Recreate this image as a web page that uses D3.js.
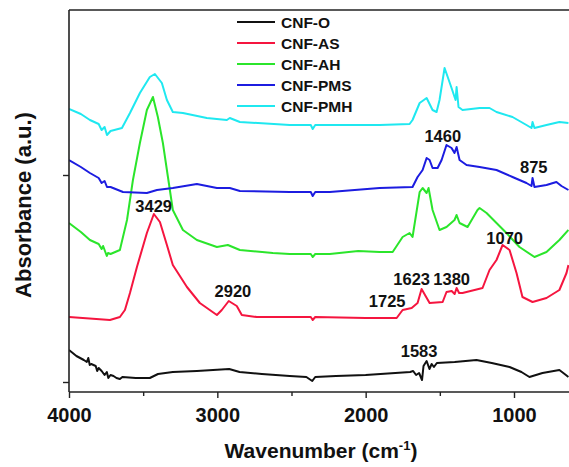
<!DOCTYPE html>
<html>
<head>
<meta charset="utf-8">
<script src="https://cdn.jsdelivr.net/npm/d3@7/dist/d3.min.js"></script>
<style>
html,body{margin:0;padding:0;background:#fff;}
svg{display:block;}
text{font-family:"Liberation Sans",Arial,sans-serif;font-weight:bold;fill:#111;}
</style>
</head>
<body>
<script>
// ---- DATA (wavenumber in cm^-1, absorbance in arbitrary units, offset spectra) ----
const seriesNames = ["CNF-O", "CNF-AS", "CNF-AH", "CNF-PMS", "CNF-PMH"];
const seriesColors = ["#111111", "#f5153f", "#2be52b", "#1c1ce0", "#1fe8f0"];

const wnO = [4000,3950,3900,3880,3870,3860,3850,3820,3810,3800,3780,3760,3745,3735,3720,3700,3680,3657,3640,3550,3455,3400,3300,3138,2920,2850,2700,2512,2400,2360,2340,2200,2000,1800,1700,1680,1660,1640,1620,1610,1589,1570,1555,1540,1520,1400,1253,1150,1030,950,896,808,694,650,633];
const absO = [0.42,0.36,0.32,0.30,0.34,0.27,0.28,0.26,0.21,0.24,0.21,0.17,0.20,0.14,0.17,0.16,0.14,0.13,0.15,0.14,0.14,0.18,0.20,0.21,0.23,0.20,0.18,0.16,0.15,0.11,0.15,0.16,0.17,0.19,0.20,0.21,0.17,0.19,0.12,0.26,0.31,0.23,0.28,0.25,0.29,0.30,0.32,0.29,0.25,0.20,0.15,0.19,0.22,0.17,0.15];

const wnAS = [4000,3724,3657,3623,3589,3542,3475,3428,3387,3340,3300,3205,3118,3003,2970,2923,2869,2835,2734,2512,2370,2357,2340,2000,1791,1751,1720,1690,1650,1623,1600,1569,1481,1455,1420,1400,1387,1370,1347,1212,1165,1118,1077,1030,983,943,875,781,694,646,633];
const absAS = [0.75,0.72,0.75,0.82,0.99,1.25,1.59,1.78,1.70,1.47,1.27,1.05,0.89,0.77,0.82,0.91,0.86,0.77,0.75,0.75,0.75,0.72,0.75,0.74,0.74,0.82,0.83,0.84,0.89,1.03,0.97,0.89,0.90,1.00,1.01,0.98,1.04,0.99,0.99,1.04,1.22,1.32,1.47,1.42,1.19,0.95,0.90,0.94,1.02,1.19,1.27];

const wnAH = [4000,3920,3859,3800,3780,3770,3745,3737,3720,3657,3609,3569,3522,3475,3434,3401,3367,3333,3300,3232,3138,3003,2929,2848,2626,2512,2370,2357,2340,2242,2050,1906,1818,1751,1704,1684,1636,1616,1589,1576,1549,1502,1455,1401,1387,1367,1313,1246,1232,1185,1118,1051,963,862,781,694,633];
const absAH = [1.69,1.60,1.52,1.48,1.43,1.46,1.36,1.39,1.38,1.42,1.72,2.12,2.49,2.82,2.95,2.75,2.49,2.15,1.82,1.62,1.52,1.45,1.47,1.42,1.39,1.38,1.38,1.35,1.38,1.38,1.41,1.40,1.40,1.55,1.59,1.55,2.00,2.04,1.99,2.04,1.82,1.62,1.65,1.72,1.77,1.69,1.65,1.82,1.84,1.79,1.69,1.59,1.45,1.35,1.40,1.52,1.62];

const wnPMS = [4000,3920,3859,3800,3780,3760,3744,3720,3636,3475,3407,3300,3138,3003,2916,2848,2512,2370,2357,2340,2242,1906,1684,1650,1616,1589,1569,1549,1515,1488,1455,1421,1401,1387,1367,1320,1232,1118,1010,916,882,875,862,781,714,680,633];
const absPMS = [2.32,2.25,2.19,2.14,2.09,2.11,2.05,2.05,2.00,1.99,2.02,2.04,2.08,2.04,2.04,2.01,2.00,2.00,1.96,2.00,2.00,2.04,2.05,2.15,2.22,2.34,2.32,2.24,2.24,2.32,2.47,2.44,2.39,2.45,2.32,2.27,2.25,2.22,2.15,2.09,2.06,2.14,2.05,2.07,2.10,2.06,2.02];

const wnPMH = [4000,3920,3859,3800,3780,3760,3744,3720,3643,3589,3522,3455,3421,3374,3340,3300,3232,3071,2936,2916,2848,2512,2370,2357,2340,2242,1906,1704,1684,1636,1589,1549,1522,1502,1468,1421,1394,1387,1374,1347,1232,1165,1118,1010,916,882,875,862,781,694,633];
const absPMH = [2.83,2.78,2.72,2.68,2.62,2.65,2.57,2.61,2.64,2.79,2.99,3.15,3.18,3.09,2.92,2.80,2.79,2.74,2.72,2.74,2.70,2.67,2.67,2.63,2.67,2.67,2.67,2.68,2.72,2.89,2.94,2.82,2.80,2.92,3.24,3.04,2.92,3.05,2.85,2.82,2.84,2.84,2.80,2.75,2.67,2.64,2.70,2.64,2.67,2.70,2.69];

const xTickMajor = [4000, 3000, 2000, 1000];
const xTickMinor = [3500, 2500, 1500];
const yTicks = [0.10, 2.17];

const annotations = [
  {label: "3429", wn: 3429, a: 1.80},
  {label: "2920", wn: 2895, a: 0.95},
  {label: "1725", wn: 1855, a: 0.85},
  {label: "1623", wn: 1690, a: 1.07},
  {label: "1380", wn: 1420, a: 1.07},
  {label: "1070", wn: 1063, a: 1.48},
  {label: "1583", wn: 1640, a: 0.35},
  {label: "1460", wn: 1480, a: 2.50},
  {label: "875",  wn: 867,  a: 2.19}
];

const allSeries = [
  {name: seriesNames[0], wn: wnO,   a: absO,   color: seriesColors[0]},
  {name: seriesNames[1], wn: wnAS,  a: absAS,  color: seriesColors[1]},
  {name: seriesNames[2], wn: wnAH,  a: absAH,  color: seriesColors[2]},
  {name: seriesNames[3], wn: wnPMS, a: absPMS, color: seriesColors[3]},
  {name: seriesNames[4], wn: wnPMH, a: absPMH, color: seriesColors[4]}
];

// ---- LAYOUT ----
const W = 569, H = 467;
const mLeft = 69, mTop = 10, mBottom = 392, mRight = 569;

const x = d3.scaleLinear().domain([4000, 1000]).range([mLeft, 514]);
const y = d3.scaleLinear().domain([0, 3.82]).range([mBottom, mTop]);

const svg = d3.select("body").append("svg").attr("width", W).attr("height", H);

svg.append("defs").append("clipPath").attr("id", "plotclip")
  .append("rect").attr("x", mLeft).attr("y", mTop).attr("width", mRight - mLeft + 5).attr("height", mBottom - mTop);

// frame top line
svg.append("line").attr("x1", mLeft).attr("x2", W).attr("y1", mTop).attr("y2", mTop)
  .attr("stroke", "#222").attr("stroke-width", 1.6);

// spectra
const line = d3.line().x(d => x(d[0])).y(d => y(d[1])).curve(d3.curveLinear);
const g = svg.append("g").attr("clip-path", "url(#plotclip)");
allSeries.forEach(s => {
  const pts = s.wn.map((w, i) => [w, s.a[i]]);
  g.append("path").datum(pts).attr("d", line)
    .attr("fill", "none").attr("stroke", s.color).attr("stroke-width", 2)
    .attr("stroke-linejoin", "round");
});

// x axis
const xAxis = svg.append("g").attr("transform", `translate(0,${mBottom})`)
  .call(d3.axisBottom(x).tickValues(xTickMajor).tickSize(6).tickPadding(10).tickFormat(d3.format("d")));
xAxis.select(".domain").remove();
xAxis.selectAll("line").attr("stroke", "#222").attr("stroke-width", 1.4);
xAxis.selectAll("text").attr("font-size", 20).attr("fill", "#111");
svg.append("g").attr("transform", `translate(0,${mBottom})`)
  .call(d3.axisBottom(x).tickValues(xTickMinor).tickSize(4).tickFormat(""))
  .call(a => a.select(".domain").remove())
  .selectAll("line").attr("stroke", "#222").attr("stroke-width", 1.4);
svg.append("line").attr("x1", mLeft).attr("x2", W).attr("y1", mBottom).attr("y2", mBottom)
  .attr("stroke", "#222").attr("stroke-width", 1.6);

// y axis
const yAxis = svg.append("g").attr("transform", `translate(${mLeft},0)`)
  .call(d3.axisLeft(y).tickValues(yTicks).tickSize(6).tickFormat(""));
yAxis.select(".domain").remove();
yAxis.selectAll("line").attr("stroke", "#222").attr("stroke-width", 1.4);
svg.append("line").attr("x1", mLeft).attr("x2", mLeft).attr("y1", mTop).attr("y2", mBottom)
  .attr("stroke", "#222").attr("stroke-width", 1.6);

// axis titles
const xt = svg.append("text").attr("x", 321).attr("y", 458).attr("text-anchor", "middle").attr("font-size", 21);
xt.append("tspan").text("Wavenumber (cm");
xt.append("tspan").attr("font-size", 13).attr("dy", -8).text("-1");
xt.append("tspan").attr("dy", 8).text(")");

svg.append("text").attr("transform", "translate(31,205) rotate(-90)")
  .attr("text-anchor", "middle").attr("font-size", 22).text("Absorbance (a.u.)");

// annotations
annotations.forEach(a => {
  svg.append("text").attr("x", x(a.wn)).attr("y", y(a.a)).attr("text-anchor", "middle")
    .attr("font-size", 16.5).text(a.label);
});

// legend
const legend = svg.append("g");
allSeries.forEach((s, i) => {
  const yy = 22 + i * 21;
  legend.append("line").attr("x1", 237).attr("x2", 275).attr("y1", yy).attr("y2", yy)
    .attr("stroke", s.color).attr("stroke-width", 2);
  legend.append("text").attr("x", 281).attr("y", yy + 5.5).attr("font-size", 15.5).text(s.name);
});
</script>
</body>
</html>
